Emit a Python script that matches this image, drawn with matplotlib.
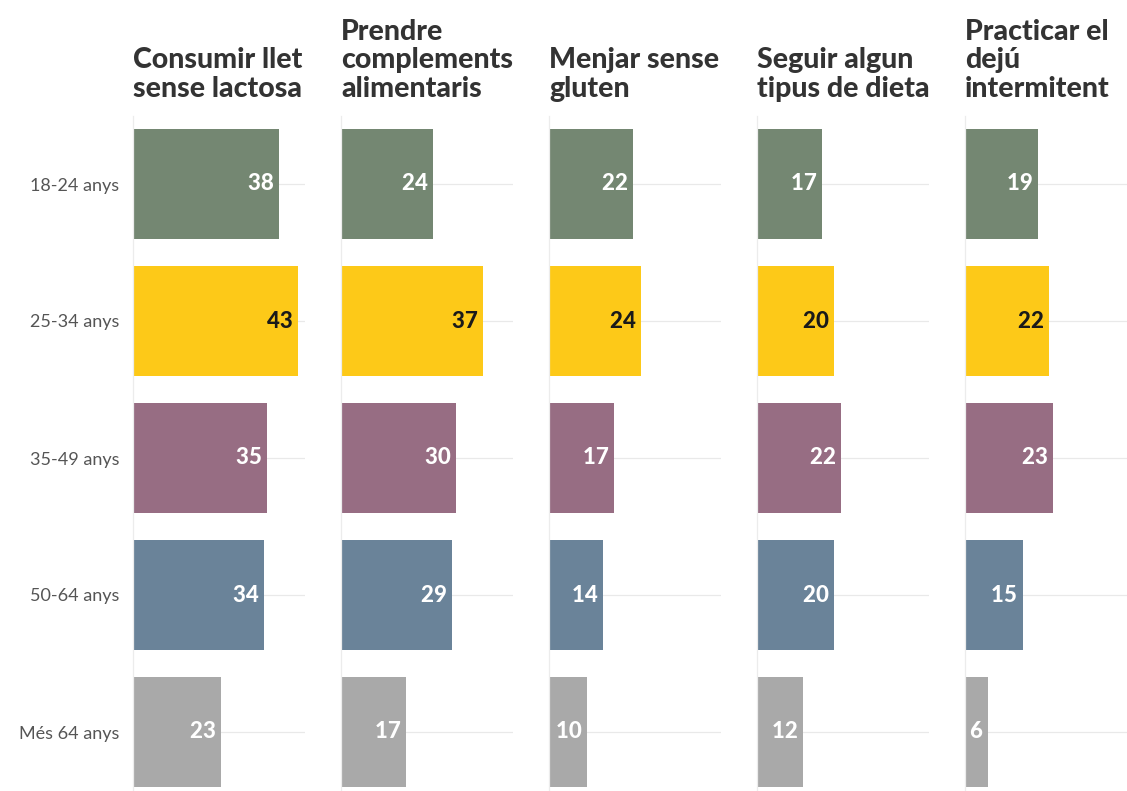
import matplotlib.pyplot as plt

# dades
grups = ['18-24 anys', '25-34 anys', '35-49 anys', '50-64 anys', 'Més 64 anys']
titols = ['Consumir llet\nsense lactosa',
          'Prendre\ncomplements\nalimentaris',
          'Menjar sense\ngluten',
          'Seguir algun\ntipus de dieta',
          'Practicar el\ndejú\nintermitent']
llet = [38, 43, 35, 34, 23]
complements = [24, 37, 30, 29, 17]
gluten = [22, 24, 17, 14, 10]
dieta = [17, 20, 22, 20, 12]
deju = [19, 22, 23, 15, 6]

colors = ['#748772', '#FDC918', '#976D83', '#6A8399', '#A9A9A9']
text_colors = ['white', '#1a1a1a', 'white', 'white', 'white']

W, H = 1127, 791
fig = plt.figure(figsize=(W / 100, H / 100), dpi=100)
fig.patch.set_facecolor('white')

series = [llet, complements, gluten, dieta, deju]
for i, (titol, vals) in enumerate(zip(titols, series)):
    left_px = 133 + 208 * i
    ax = fig.add_axes([left_px / W, (H - 800.5) / H, 172 / W, 685 / H])
    ax.set_xlim(0, 44.8)
    ax.set_ylim(4.5, -0.5)
    ax.barh(range(len(grups)), vals, height=0.8, color=colors, zorder=2)
    for y in range(len(grups)):
        ax.axhline(y, color='#e9e9e9', lw=0.9, zorder=1)
    for y, v in enumerate(vals):
        ax.text(v, y, f'{v} ', ha='right', va='center', fontsize=16,
                fontweight='black', family='Lato', color=text_colors[y], zorder=3)
    for s in ['top', 'right', 'bottom']:
        ax.spines[s].set_visible(False)
    ax.spines['left'].set_color('#ececec')
    ax.spines['left'].set_linewidth(0.9)
    ax.set_xticks([])
    ax.tick_params(axis='y', length=0, pad=10)
    ax.set_yticks(range(len(grups)))
    if i == 0:
        ax.set_yticklabels(grups, fontsize=13, color='#555555', family='Lato')
    else:
        ax.set_yticklabels([])
    fig.text(left_px / W, 1 - 102 / H, titol, ha='left', va='bottom',
             fontsize=20.5, fontweight='black', family='Lato', color='#333333',
             linespacing=1.12)

fig.savefig('out.png', dpi=100)
